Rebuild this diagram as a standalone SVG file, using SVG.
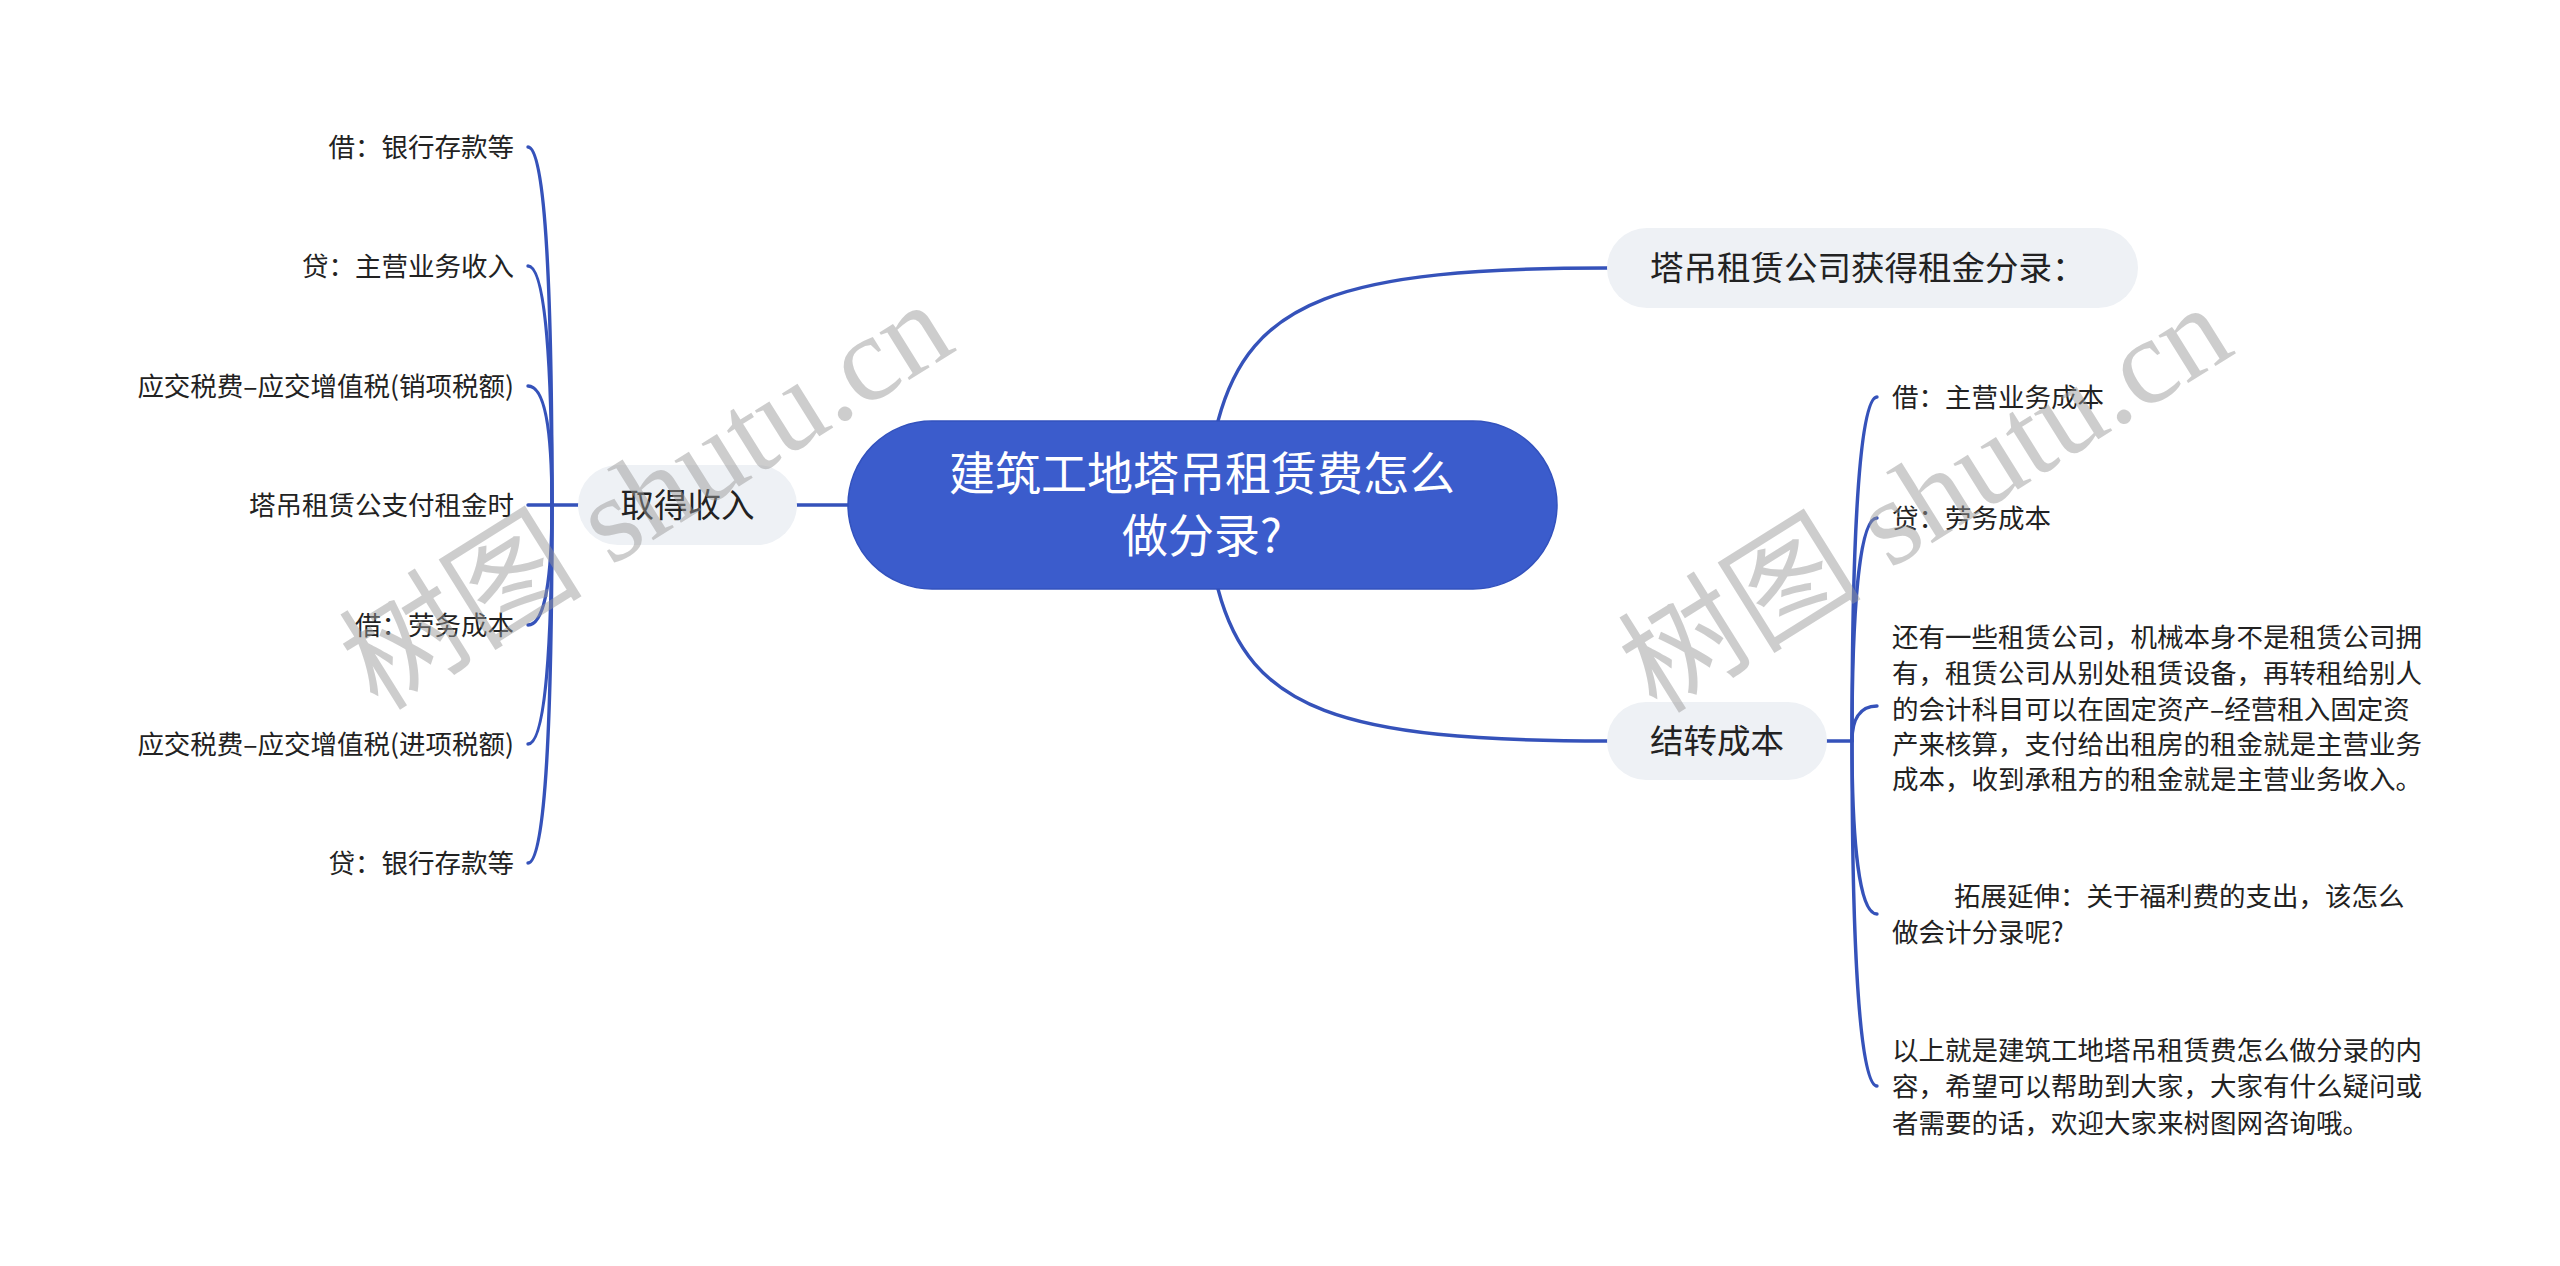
<svg xmlns="http://www.w3.org/2000/svg" width="2560" height="1266" viewBox="0 0 2560 1266">
<style>
.cjk{font-family:"Noto Sans CJK SC","Noto Sans",sans-serif;}
.leaf{font-size:26.5px;fill:#222222;}
.sub{font-size:33.5px;fill:#222222;}
.root{font-size:46px;fill:#ffffff;}
.pill{fill:#eef1f5;}
.conn{fill:none;stroke:#3552ba;stroke-width:3.4;stroke-linecap:round;}
.wm{font-family:"Liberation Serif","Noto Sans CJK SC",serif;font-size:122px;fill:#999999;opacity:0.48;}
</style>
<rect width="2560" height="1266" fill="#ffffff"/>
<g id="connectors">
<path class="conn" d="M 797 505 L 848 505"/>
<path class="conn" d="M 552 505 L 578 505"/>
<path class="conn" d="M 528 505 L 552 505"/>
<path class="conn" d="M 528 147 C 546 147, 552 301, 552 505"/>
<path class="conn" d="M 528 266 C 546 266, 552 369, 552 505"/>
<path class="conn" d="M 528 386 C 546 386, 552 437, 552 505"/>
<path class="conn" d="M 528 625 C 546 625, 552 573, 552 505"/>
<path class="conn" d="M 528 744 C 546 744, 552 641, 552 505"/>
<path class="conn" d="M 528 863 C 546 863, 552 709, 552 505"/>
<path class="conn" d="M 1218 421 C 1250 300, 1340 268, 1607 268"/>
<path class="conn" d="M 1218 589 C 1250 710, 1340 741, 1607 741"/>
<path class="conn" d="M 1827 741 L 1852 741"/>
<path class="conn" d="M 1877 397 C 1859 397, 1852 545, 1852 741"/>
<path class="conn" d="M 1877 518 C 1859 518, 1852 614, 1852 741"/>
<path class="conn" d="M 1877 706 C 1859 706, 1852 721, 1852 741"/>
<path class="conn" d="M 1877 914 C 1859 914, 1852 840, 1852 741"/>
<path class="conn" d="M 1877 1086 C 1859 1086, 1852 938, 1852 741"/>
</g>
<g id="root">
<rect x="848" y="421" width="709" height="168" rx="84" fill="#3b5ccc" stroke="#3352bd" stroke-width="1.5"/>
<text class="cjk root" x="1202" y="490" text-anchor="middle">建筑工地塔吊租赁费怎么</text>
<text class="cjk root" x="1202" y="552" text-anchor="middle">做分录?</text>
</g>
<g id="node-income">
<rect class="pill" x="578" y="465" width="219" height="80" rx="40"/>
<text class="cjk sub" x="687.5" y="517" text-anchor="middle">取得收入</text>
</g>
<g id="node-rent">
<rect class="pill" x="1607" y="228" width="531" height="80" rx="40"/>
<text class="cjk sub" x="1650" y="280">塔吊租赁公司获得租金分录：</text>
</g>
<g id="node-cost">
<rect class="pill" x="1607" y="702" width="220" height="78" rx="39"/>
<text class="cjk sub" x="1717" y="753" text-anchor="middle">结转成本</text>
</g>
<g id="left-leaves" class="cjk leaf" text-anchor="end">
<text id="l1" x="514" y="156.5">借：银行存款等</text>
<text id="l2" x="514" y="275.5">贷：主营业务收入</text>
<text id="l3" x="514" y="395.5">应交税费–应交增值税(销项税额)</text>
<text id="l4" x="514" y="514.5">塔吊租赁公支付租金时</text>
<text id="l5" x="514" y="634.5">借：劳务成本</text>
<text id="l6" x="514" y="753.5">应交税费–应交增值税(进项税额)</text>
<text id="l7" x="514" y="872.5">贷：银行存款等</text>
</g>
<g id="right-leaves" class="cjk leaf">
<text id="r1" x="1892" y="406.5">借：主营业务成本</text>
<text id="r2" x="1892" y="527.5">贷：劳务成本</text>
<g id="r3">
<text x="1892" y="646.5">还有一些租赁公司，机械本身不是租赁公司拥</text>
<text x="1892" y="682.5">有，租赁公司从别处租赁设备，再转租给别人</text>
<text x="1892" y="718.5">的会计科目可以在固定资产–经营租入固定资</text>
<text x="1892" y="753.5">产来核算，支付给出租房的租金就是主营业务</text>
<text x="1892" y="788.5">成本，收到承租方的租金就是主营业务收入。</text>
</g>
<g id="r4">
<text x="1954" y="905.5">拓展延伸：关于福利费的支出，该怎么</text>
<text x="1892" y="941.5">做会计分录呢?</text>
</g>
<g id="r5">
<text x="1892" y="1059.5">以上就是建筑工地塔吊租赁费怎么做分录的内</text>
<text x="1892" y="1095.5">容，希望可以帮助到大家，大家有什么疑问或</text>
<text x="1892" y="1132.5">者需要的话，欢迎大家来树图网咨询哦。</text>
</g>
</g>
<g id="watermarks">
<text class="wm" transform="translate(378 712) rotate(-32)">树图 shutu.cn</text>
<text class="wm" transform="translate(1657 715) rotate(-32)">树图 shutu.cn</text>
</g>
</svg>
